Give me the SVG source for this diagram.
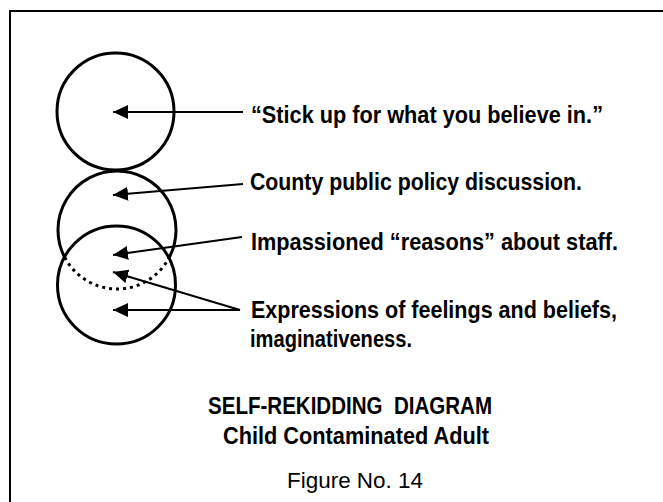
<svg xmlns="http://www.w3.org/2000/svg" width="663" height="502" viewBox="0 0 663 502">
<defs>
<style>
.frame{fill:none;stroke:#000;stroke-width:2}
.ring{fill:none;stroke:#000;stroke-width:3}
.dots{fill:none;stroke:#000;stroke-width:3;stroke-dasharray:3 4}
.conn line{stroke:#000;stroke-width:2;marker-end:url(#ah)}
.lbl{font-family:"Liberation Sans Narrow","Liberation Sans",Arial,sans-serif;font-weight:bold;font-size:23.5px;fill:#000}
.ttl{font-family:"Liberation Sans Narrow","Liberation Sans",Arial,sans-serif;font-weight:bold;font-size:24px;fill:#000}
.fig{font-family:"Liberation Sans",Arial,sans-serif;font-size:22.5px;fill:#000}
</style>
<marker id="ah" markerUnits="userSpaceOnUse" markerWidth="16" markerHeight="15" refX="15" refY="7" orient="auto" viewBox="0 0 16 15">
<path d="M0,0 L15,7 L0,14 z" fill="#000"/>
</marker>
</defs>
<rect width="663" height="502" fill="#fff"/>
<path class="frame" d="M10,502 V11 H663"/>
<g id="circle-top">
<circle class="ring" cx="115.5" cy="111.5" r="58.5"/>
</g>
<g id="circle-middle">
<path class="ring" d="M64.8,257.5 A59,59 0 1 1 169.2,257.5"/>
<path class="dots" d="M64.8,257.5 A59,59 0 0 0 169.2,257.5"/>
</g>
<g id="circle-bottom">
<circle class="ring" cx="116.5" cy="285" r="59"/>
</g>
<g id="connectors" class="conn">
<line x1="243" y1="112" x2="113" y2="112"/>
<line x1="243" y1="184" x2="113" y2="195"/>
<line x1="242" y1="237" x2="113" y2="255"/>
<line x1="240" y1="310" x2="113" y2="272"/>
<line x1="240" y1="310" x2="113" y2="310"/>
</g>
<g id="label-1"><text class="lbl" x="251" y="123" textLength="352" lengthAdjust="spacingAndGlyphs">“Stick up for what you believe in.”</text></g>
<g id="label-2"><text class="lbl" x="250" y="190" textLength="332" lengthAdjust="spacingAndGlyphs">County public policy discussion.</text></g>
<g id="label-3"><text class="lbl" x="251" y="250" textLength="367" lengthAdjust="spacingAndGlyphs">Impassioned “reasons” about staff.</text></g>
<g id="label-4">
<text class="lbl" x="251" y="318" textLength="366" lengthAdjust="spacingAndGlyphs">Expressions of feelings and beliefs,</text>
<text class="lbl" x="250" y="347" textLength="162" lengthAdjust="spacingAndGlyphs">imaginativeness.</text>
</g>
<g id="title">
<text class="ttl" x="208" y="414" textLength="284" lengthAdjust="spacingAndGlyphs" xml:space="preserve">SELF-REKIDDING  DIAGRAM</text>
<text class="ttl" x="223" y="444" textLength="266" lengthAdjust="spacingAndGlyphs">Child Contaminated Adult</text>
<text class="fig" x="287" y="488" textLength="136" lengthAdjust="spacingAndGlyphs">Figure No. 14</text>
</g>
</svg>
